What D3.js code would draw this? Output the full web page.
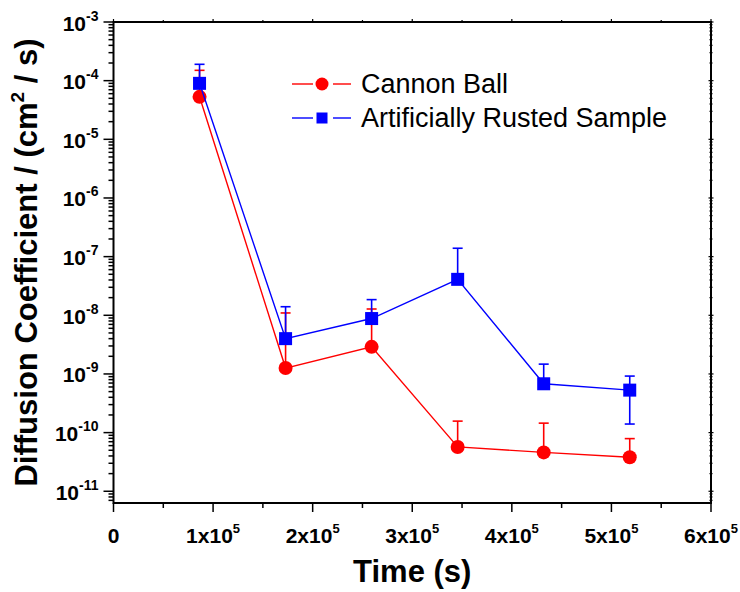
<!DOCTYPE html>
<html lang="en">
<head>
<meta charset="UTF-8" />
<title>Diffusion Coefficient vs Time</title>
<script src="https://cdn.jsdelivr.net/npm/d3@7"></script>
<style>
  body { margin: 0; background: #fff; }
  svg { font-family: "Liberation Sans", Arial, sans-serif; }
  .tick-label { font-weight: bold; font-size: 21px; }
  .axis-title { font-weight: bold; }
  .legend-text { font-size: 27px; }
</style>
</head>
<body>
<script>
  // data (time in s, D in cm^2/s, error = upper bar - value)
  var times = [86400, 172800, 259200, 345600, 432000, 518400];
  var cannonVals = [5.3e-5, 1.26e-9, 2.9e-9, 5.7e-11, 4.6e-11, 3.8e-11];
  var cannonErr  = [9.7e-5, 9.7e-9, 9.9e-9, 1.0e-10, 9.9e-11, 4.1e-11];
  var rustVals = [9.0e-5, 4.0e-9, 8.8e-9, 4.1e-8, 6.8e-10, 5.3e-10];
  var rustErr  = [1.0e-4, 1.0e-8, 9.7e-9, 9.8e-8, 7.9e-10, 3.9e-10];
  var xTicks = [0, 1e5, 2e5, 3e5, 4e5, 5e5, 6e5];
  var yExps = [-3, -4, -5, -6, -7, -8, -9, -10, -11];

  var w = 740, h = 592;
  var margin = { top: 22, right: 29, bottom: 89, left: 113.5 };

  var svg = d3.select("body").append("svg")
              .attr("width", w)
              .attr("height", h);

  var xScale = d3.scaleLinear()
                 .domain([0, 6e5])
                 .range([margin.left, w - margin.right]);

  var yScale = d3.scaleLog()
                 .domain([Math.pow(10, -11.2), 1e-3])
                 .range([h - margin.bottom, margin.top]);

  var x0 = xScale.range()[0], x1 = xScale.range()[1];
  var y0 = yScale.range()[0], y1 = yScale.range()[1];

  // frame
  svg.append("rect")
     .attr("x", x0).attr("y", y1)
     .attr("width", x1 - x0).attr("height", y0 - y1)
     .attr("fill", "none").attr("stroke", "black").attr("stroke-width", 2);

  // y ticks (major + minor)
  var yMinor = [];
  for (var e = -12; e <= -3; e++) {
    for (var m = 1; m <= 9; m++) {
      var v = m * Math.pow(10, e);
      if (v >= yScale.domain()[0] && v <= 1e-3) yMinor.push({ v: v, major: m === 1 });
    }
  }
  svg.append("g").selectAll("line")
     .data(yMinor).enter().append("line")
     .attr("x1", function(d) { return x0 - (d.major ? 10 : 5); })
     .attr("x2", x0)
     .attr("y1", function(d) { return yScale(d.v); })
     .attr("y2", function(d) { return yScale(d.v); })
     .attr("stroke", "black").attr("stroke-width", 1.5);
  svg.append("g").selectAll("line")
     .data(yMinor).enter().append("line")
     .attr("x1", function(d) { return x1 - (d.major ? 2.5 : 1.5); })
     .attr("x2", function(d) { return x1 + (d.major ? 2.5 : 1.5); })
     .attr("y1", function(d) { return yScale(d.v); })
     .attr("y2", function(d) { return yScale(d.v); })
     .attr("stroke", "black").attr("stroke-width", 1.2);

  // y tick labels 10^n
  var yl = svg.append("g").selectAll("text")
     .data(yExps).enter().append("text")
     .attr("class", "tick-label")
     .attr("text-anchor", "end")
     .attr("x", x0 - 15)
     .attr("y", function(d) { return yScale(Math.pow(10, d)) + 8.5; });
  yl.append("tspan").text("10");
  yl.append("tspan").attr("dy", -10).attr("font-size", 14).text(function(d) { return d; });

  // x ticks
  var xAll = d3.range(0, 6.01e5, 0.5e5);
  svg.append("g").selectAll("line")
     .data(xAll).enter().append("line")
     .attr("x1", function(d) { return xScale(d); })
     .attr("x2", function(d) { return xScale(d); })
     .attr("y1", y0)
     .attr("y2", function(d) { return y0 + (d % 1e5 === 0 ? 9 : 5); })
     .attr("stroke", "black").attr("stroke-width", 1.5);
  svg.append("g").selectAll("line")
     .data(xAll).enter().append("line")
     .attr("x1", function(d) { return xScale(d); })
     .attr("x2", function(d) { return xScale(d); })
     .attr("y1", y1)
     .attr("y2", function(d) { return y1 - (d % 1e5 === 0 ? 3 : 2); })
     .attr("stroke", "black").attr("stroke-width", 1.2);

  var xl = svg.append("g").selectAll("text")
     .data(xTicks).enter().append("text")
     .attr("class", "tick-label")
     .attr("text-anchor", "middle")
     .attr("x", function(d) { return xScale(d); })
     .attr("y", 543);
  xl.each(function(d) {
    var t = d3.select(this);
    if (d === 0) { t.text("0"); return; }
    t.append("tspan").text((d / 1e5) + "x10");
    t.append("tspan").attr("dy", -10).attr("font-size", 13).text("5");
  });

  // axis titles
  svg.append("text")
     .attr("class", "axis-title")
     .attr("font-size", 31)
     .attr("text-anchor", "middle")
     .attr("x", xScale(3e5))
     .attr("y", 582)
     .text("Time (s)");

  var yt = svg.append("text")
     .attr("class", "axis-title")
     .attr("font-size", 31)
     .attr("text-anchor", "middle")
     .attr("transform", "translate(37," + ((y0 + y1) / 2) + ") rotate(-90)");
  yt.append("tspan").text("Diffusion Coefficient / (cm");
  yt.append("tspan").attr("dy", -13).attr("font-size", 19).text("2");
  yt.append("tspan").attr("dy", 13).text(" / s)");

  // series
  var series = [
    { name: "Cannon Ball", color: "#ff0000", vals: cannonVals, err: cannonErr, shape: "circle" },
    { name: "Artificially Rusted Sample", color: "#0000ff", vals: rustVals, err: rustErr, shape: "square" }
  ];

  var line = d3.line()
               .x(function(d) { return xScale(d.t); })
               .y(function(d) { return yScale(d.v); });

  series.forEach(function(s) {
    var pts = times.map(function(t, i) { return { t: t, v: s.vals[i], e: s.err[i] }; });
    var g = svg.append("g");

    g.append("path")
     .datum(pts)
     .attr("d", line)
     .attr("fill", "none")
     .attr("stroke", s.color)
     .attr("stroke-width", 1.4);

    var eb = g.selectAll(".eb").data(pts).enter().append("g");
    eb.append("line")
      .attr("x1", function(d) { return xScale(d.t); })
      .attr("x2", function(d) { return xScale(d.t); })
      .attr("y1", function(d) { return yScale(d.v + d.e); })
      .attr("y2", function(d) { return d.v - d.e > 0 ? yScale(d.v - d.e) : yScale(d.v); })
      .attr("stroke", s.color).attr("stroke-width", 1.6);
    eb.append("line")
      .attr("x1", function(d) { return xScale(d.t) - 5; })
      .attr("x2", function(d) { return xScale(d.t) + 5; })
      .attr("y1", function(d) { return yScale(d.v + d.e); })
      .attr("y2", function(d) { return yScale(d.v + d.e); })
      .attr("stroke", s.color).attr("stroke-width", 1.6);
    eb.filter(function(d) { return d.v - d.e > 0; })
      .append("line")
      .attr("x1", function(d) { return xScale(d.t) - 5; })
      .attr("x2", function(d) { return xScale(d.t) + 5; })
      .attr("y1", function(d) { return yScale(d.v - d.e); })
      .attr("y2", function(d) { return yScale(d.v - d.e); })
      .attr("stroke", s.color).attr("stroke-width", 1.6);

    if (s.shape === "circle") {
      g.selectAll("circle").data(pts).enter().append("circle")
       .attr("cx", function(d) { return xScale(d.t); })
       .attr("cy", function(d) { return yScale(d.v); })
       .attr("r", 7)
       .attr("fill", s.color);
    } else {
      g.selectAll("rect").data(pts).enter().append("rect")
       .attr("x", function(d) { return xScale(d.t) - 6.5; })
       .attr("y", function(d) { return yScale(d.v) - 6.5; })
       .attr("width", 13).attr("height", 13)
       .attr("fill", s.color);
    }
  });

  // legend
  var legend = svg.append("g");
  series.forEach(function(s, i) {
    var ly = 84 + i * 34;
    legend.append("line")
      .attr("x1", 292).attr("x2", 313)
      .attr("y1", ly).attr("y2", ly)
      .attr("stroke", s.color).attr("stroke-width", 1.4);
    legend.append("line")
      .attr("x1", 333).attr("x2", 351)
      .attr("y1", ly).attr("y2", ly)
      .attr("stroke", s.color).attr("stroke-width", 1.4);
    if (s.shape === "circle") {
      legend.append("circle").attr("cx", 322).attr("cy", ly).attr("r", 6.5).attr("fill", s.color);
    } else {
      legend.append("rect").attr("x", 316.5).attr("y", ly - 5.5).attr("width", 11).attr("height", 11).attr("fill", s.color);
    }
    legend.append("text")
      .attr("class", "legend-text")
      .attr("x", 361)
      .attr("y", ly + 9)
      .text(s.name);
  });
</script>
</body>
</html>
